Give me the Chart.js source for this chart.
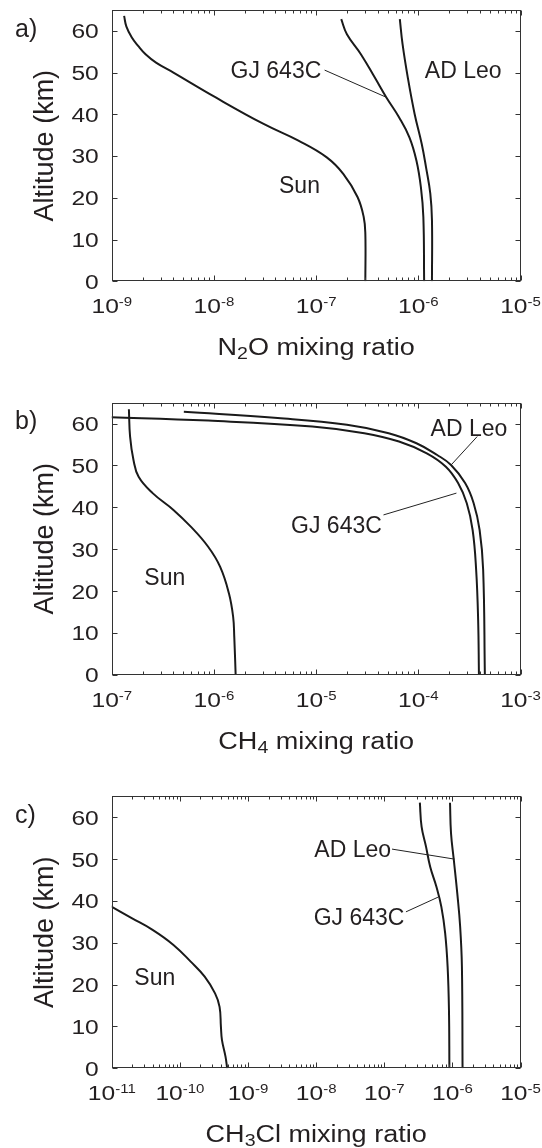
<!DOCTYPE html>
<html><head><meta charset="utf-8">
<script src="https://cdn.jsdelivr.net/npm/chart.js@4.4.1/dist/chart.umd.min.js"></script>
<style>
html,body{margin:0;padding:0;background:#fff;}
body{width:542px;height:1148px;position:relative;overflow:hidden;}
canvas{position:absolute;left:0;}
</style></head><body>
<canvas id="ca" width="542" height="372" style="top:0px"></canvas>
<canvas id="cb" width="542" height="390" style="top:372px"></canvas>
<canvas id="cc" width="542" height="386" style="top:762px"></canvas>
<script>
// ---- tick labels ----
const altitudeTicks = [0, 10, 20, 30, 40, 50, 60];
const n2oExponents = [-9, -8, -7, -6, -5];
const ch4Exponents = [-7, -6, -5, -4, -3];
const ch3clExponents = [-11, -10, -9, -8, -7, -6, -5];
const seriesNames = ["Sun", "GJ 643C", "AD Leo"];

// ---- a) N2O (altitude km, mixing ratio) ----
const n2oSunAlt = [63.6, 61.0, 58.4, 56.4, 54.4, 52.4, 50.0, 44.1, 37.7, 33.7, 29.7, 25.7, 20.2, 15.4, 11.4, 0];
const n2oSunVal = [1.32e-9, 1.39e-9, 1.57e-9, 1.81e-9, 2.14e-9, 2.71e-9, 4.01e-9, 1.03e-8, 3.06e-8, 6.71e-8, 1.27e-7, 1.85e-7, 2.54e-7, 2.92e-7, 3.03e-7, 3.03e-7];
const n2oGjAlt = [62.8, 59.2, 54.4, 48.8, 44.1, 39.3, 34.5, 28.9, 22.5, 15.4, 0];
const n2oGjVal = [1.76e-7, 2.00e-7, 2.74e-7, 3.75e-7, 4.85e-7, 6.47e-7, 8.18e-7, 9.59e-7, 1.06e-6, 1.12e-6, 1.14e-6];
const n2oAdAlt = [62.8, 56.8, 48.8, 40.1, 32.9, 27.3, 21.0, 14.6, 0];
const n2oAdVal = [6.59e-7, 7.01e-7, 7.89e-7, 9.20e-7, 1.08e-6, 1.19e-6, 1.31e-6, 1.36e-6, 1.36e-6];

// ---- b) CH4 ----
const ch4SunAlt = [63.4, 56.9, 51.3, 47.3, 43.4, 39.4, 35.4, 30.6, 25.8, 19.5, 13.9, 9.1, 0];
const ch4SunVal = [1.47e-7, 1.51e-7, 1.63e-7, 1.83e-7, 2.51e-7, 4.01e-7, 5.93e-7, 8.77e-7, 1.15e-6, 1.40e-6, 1.54e-6, 1.58e-6, 1.63e-6];
const ch4GjAlt = [61.6, 60.7, 59.3, 57.7, 55.7, 52.9, 49.7, 45.8, 41.0, 34.6, 25.1, 13.1, 0];
const ch4GjVal = [8.0e-8, 8.77e-7, 9.16e-6, 2.96e-5, 6.47e-5, 1.21e-4, 1.86e-4, 2.45e-4, 2.98e-4, 3.40e-4, 3.68e-4, 3.85e-4, 3.92e-4];
const ch4AdAlt = [62.8, 61.3, 59.7, 57.7, 55.3, 52.5, 50.1, 45.8, 41.0, 34.6, 25.1, 0];
const ch4AdVal = [5.07e-7, 4.20e-6, 2.00e-5, 5.13e-5, 9.59e-5, 1.53e-4, 2.09e-4, 2.87e-4, 3.48e-4, 3.98e-4, 4.31e-4, 4.48e-4];

// ---- c) CH3Cl ----
const ch3clSunAlt = [39.0, 35.9, 33.1, 29.5, 25.5, 21.9, 17.9, 14.7, 9.9, 6.8, 2.8, 0];
const ch3clSunVal = [9.0e-12, 1.96e-11, 3.97e-11, 8.04e-11, 1.44e-10, 2.31e-10, 3.28e-10, 3.82e-10, 4.00e-10, 4.14e-10, 4.67e-10, 4.94e-10];
const ch3clGjAlt = [63.5, 57.8, 53.0, 48.2, 43.4, 38.6, 32.3, 24.3, 13.9, 0];
const ch3clGjVal = [3.33e-7, 3.53e-7, 4.10e-7, 4.72e-7, 5.83e-7, 6.89e-7, 7.83e-7, 8.51e-7, 8.91e-7, 9.04e-7];
const ch3clAdAlt = [63.5, 56.2, 49.8, 41.8, 33.9, 24.3, 0];
const ch3clAdVal = [9.23e-7, 9.55e-7, 1.05e-6, 1.18e-6, 1.30e-6, 1.38e-6, 1.41e-6];

// ---- annotation anchors (data coordinates) ----
const n2oLabelText = ["GJ 643C", "AD Leo", "Sun"];
const n2oLabelX = [4.04e-8, 2.75e-6, 6.87e-8];
const n2oLabelAlt = [50.7, 50.7, 23.2];
const n2oLeaders = [[1.21e-7, 50.6, 4.85e-7, 44.1]];

const ch4LabelText = ["AD Leo", "GJ 643C", "Sun"];
const ch4LabelX = [3.13e-4, 1.58e-5, 3.30e-7];
const ch4LabelAlt = [59.1, 35.8, 23.5];
const ch4Leaders = [[3.77e-4, 56.9, 2.09e-4, 50.1], [4.56e-5, 38.2, 2.36e-4, 43.4]];

const ch3clLabelText = ["AD Leo", "GJ 643C", "Sun"];
const ch3clLabelX = [3.44e-8, 4.27e-8, 4.28e-11];
const ch3clLabelAlt = [52.4, 36.2, 21.9];
const ch3clLeaders = [[1.30e-7, 52.4, 1.08e-6, 50.0], [2.08e-7, 37.4, 6.14e-7, 40.9]];

const FONT = '"Liberation Sans", Arial, Helvetica, sans-serif';
const INK = '#231f20';

function txt(ctx, s, x, y, size, align, sx) {
  ctx.save();
  ctx.font = size + 'px ' + FONT;
  const w = ctx.measureText(s).width * sx;
  const x0 = align === 'center' ? x - w / 2 : (align === 'right' ? x - w : x);
  ctx.translate(x0, y);
  ctx.scale(sx, 1);
  ctx.textAlign = 'left';
  ctx.textBaseline = 'alphabetic';
  ctx.fillText(s, 0, 0);
  ctx.restore();
  return w;
}

function richCenter(ctx, parts, cx, y, size, subSize, subDy, sx) {
  let total = 0;
  ctx.save();
  parts.forEach(p => { ctx.font = (p[1] ? subSize : size) + 'px ' + FONT; total += ctx.measureText(p[0]).width * sx; });
  ctx.restore();
  let x = cx - total / 2;
  parts.forEach(p => {
    x += txt(ctx, p[0], x, y + (p[1] ? subDy : 0), p[1] ? subSize : size, 'left', sx);
  });
}

const decor = {
  id: 'decor',
  afterDatasetsDraw(chart, args, o) {
    const ctx = chart.ctx, xs = chart.scales.x, ys = chart.scales.y, a = chart.chartArea;
    const L = a.left, R = a.right, T = a.top, B = a.bottom;
    ctx.save();
    ctx.strokeStyle = '#333';
    ctx.fillStyle = INK;
    ctx.lineWidth = 1;
    const l = Math.round(L) + 0.5, r = Math.round(R) - 0.5, t = Math.round(T) + 0.5, b = Math.round(B) - 0.5;
    ctx.strokeRect(l, t, r - l, b - t);
    ctx.beginPath();
    altitudeTicks.forEach(v => {
      const py = Math.round(ys.getPixelForValue(v)) + 0.5;
      ctx.moveTo(l, py); ctx.lineTo(l + 5, py);
      ctx.moveTo(r, py); ctx.lineTo(r - 5, py);
    });
    const ex = o.exps;
    for (let i = 0; i < ex.length; i++) {
      const e = ex[i];
      const px = Math.round(xs.getPixelForValue(Math.pow(10, e))) + 0.5;
      ctx.moveTo(px, b); ctx.lineTo(px, b - 5);
      ctx.moveTo(px, t); ctx.lineTo(px, t + 5);
      if (i < ex.length - 1) {
        for (let m = 2; m <= 9; m++) {
          const q = Math.round(xs.getPixelForValue(m * Math.pow(10, e))) + 0.5;
          ctx.moveTo(q, b); ctx.lineTo(q, b - 3);
          ctx.moveTo(q, t); ctx.lineTo(q, t + 3);
        }
      }
    }
    ctx.stroke();

    ctx.strokeStyle = '#222';
    ctx.lineWidth = 1;
    o.leaders.forEach(s => {
      ctx.beginPath();
      ctx.moveTo(xs.getPixelForValue(s[0]), ys.getPixelForValue(s[1]));
      ctx.lineTo(xs.getPixelForValue(s[2]), ys.getPixelForValue(s[3]));
      ctx.stroke();
    });

    altitudeTicks.forEach(v => {
      txt(ctx, String(v), L - 13, ys.getPixelForValue(v) + 7.4, 20.5, 'right', 1.2);
    });
    ex.forEach(e => {
      const px = xs.getPixelForValue(Math.pow(10, e));
      ctx.save();
      ctx.font = '20.5px ' + FONT; const w1 = ctx.measureText('10').width * 1.2;
      ctx.font = '12.5px ' + FONT; const w2 = ctx.measureText(String(e)).width * 1.2;
      ctx.restore();
      const x0 = px - (w1 + w2) / 2;
      txt(ctx, '10', x0, B + 31.5, 20.5, 'left', 1.2);
      txt(ctx, String(e), x0 + w1, B + 31.5 - 6.5, 12.5, 'left', 1.2);
    });
    richCenter(ctx, o.xlabel, (L + R) / 2, B + 73.5, 23.5, 17, 4, 1.15);
    ctx.save();
    ctx.translate(52.7, (T + B) / 2);
    ctx.rotate(-Math.PI / 2);
    ctx.font = '27px ' + FONT;
    ctx.textAlign = 'center';
    ctx.textBaseline = 'alphabetic';
    ctx.fillText('Altitude (km)', 0, 0);
    ctx.restore();
    txt(ctx, o.letter, 15, T + 26.5, 25, 'left', 1);
    o.labText.forEach((s, i) => {
      txt(ctx, s, xs.getPixelForValue(o.labX[i]), ys.getPixelForValue(o.labAlt[i]) + 0.36 * 23, 23, 'center', 1);
    });
    ctx.restore();
  }
};

function series(vals, alts) {
  return {
    data: vals.map((v, i) => ({ x: v, y: alts[i] })),
    showLine: true, pointRadius: 0, borderColor: '#1a1a1a', borderWidth: 2,
    tension: 0.42, fill: false, borderJoinStyle: 'round'
  };
}

function makeChart(id, h, pad, xmin, xmax, ds, deco) {
  return new Chart(document.getElementById(id), {
    type: 'scatter',
    data: { datasets: ds },
    options: {
      responsive: false, animation: false, devicePixelRatio: 1, events: [],
      layout: { padding: pad },
      plugins: { legend: { display: false }, tooltip: { enabled: false }, decor: deco },
      scales: {
        x: { type: 'logarithmic', min: xmin, max: xmax, display: false },
        y: { type: 'linear', min: 0, max: 65, display: false }
      }
    },
    plugins: [decor]
  });
}

makeChart('ca', 372, { left: 111.8, right: 21.5, top: 10, bottom: 90.7 }, 1e-9, 1e-5,
  [series(n2oSunVal, n2oSunAlt), series(n2oGjVal, n2oGjAlt), series(n2oAdVal, n2oAdAlt)],
  { letter: 'a)', exps: n2oExponents, xlabel: [['N', 0], ['2', 1], ['O mixing ratio', 0]],
    labText: n2oLabelText, labX: n2oLabelX, labAlt: n2oLabelAlt, leaders: n2oLeaders });

makeChart('cb', 390, { left: 111.8, right: 21.5, top: 30.6, bottom: 87 }, 1e-7, 1e-3,
  [series(ch4SunVal, ch4SunAlt), series(ch4GjVal, ch4GjAlt), series(ch4AdVal, ch4AdAlt)],
  { letter: 'b)', exps: ch4Exponents, xlabel: [['CH', 0], ['4', 1], [' mixing ratio', 0]],
    labText: ch4LabelText, labX: ch4LabelX, labAlt: ch4LabelAlt, leaders: ch4Leaders });

makeChart('cc', 386, { left: 111.8, right: 21.5, top: 34.4, bottom: 79.7 }, 1e-11, 1e-5,
  [series(ch3clSunVal, ch3clSunAlt), series(ch3clGjVal, ch3clGjAlt), series(ch3clAdVal, ch3clAdAlt)],
  { letter: 'c)', exps: ch3clExponents, xlabel: [['CH', 0], ['3', 1], ['Cl mixing ratio', 0]],
    labText: ch3clLabelText, labX: ch3clLabelX, labAlt: ch3clLabelAlt, leaders: ch3clLeaders });
</script>
</body></html>
